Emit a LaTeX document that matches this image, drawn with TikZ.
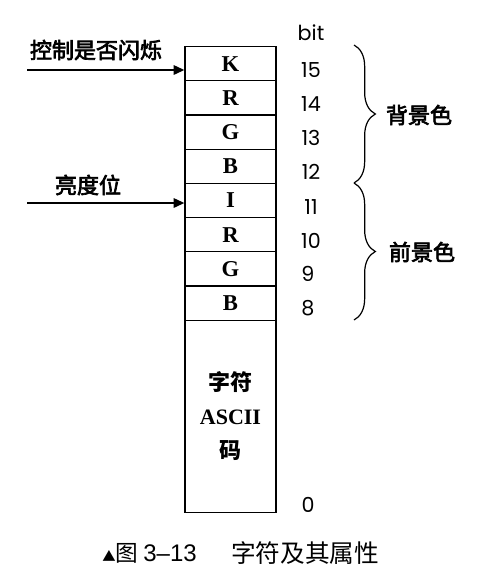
\documentclass[tikz,border=0pt]{standalone}
\usepackage{fontspec}
\setmainfont{Liberation Serif}
\newfontfamily\cjk{Noto Sans CJK SC}
\newfontfamily\cjkm[FakeBold=3]{Noto Sans CJK SC}
\newfontfamily\numf{Poppins}
\usetikzlibrary{arrows.meta,decorations.pathreplacing}
\begin{document}
\begin{tikzpicture}[x=0.75pt,y=-0.75pt,
  cell/.style={draw,line width=0.9pt,minimum width=68.25pt,minimum height=25.65pt,inner sep=0pt,
    font=\fontsize{17}{18}\selectfont\bfseries},
  bitnum/.style={font=\numf\fontsize{15.5}{16}\selectfont,inner sep=0pt},
  lbl/.style={font=\cjkm\fontsize{16.5}{18}\selectfont,inner sep=0pt},
  arr/.style={line width=1.4pt,-{Triangle[length=8pt,width=7pt]}},
  brc/.style={line width=0.9pt,decorate,decoration={brace,amplitude=16pt}}]
\useasboundingbox (0,0) rectangle (493,583);
% cells
\node[cell] (k15) at (230.5,63.6) {K};
\node[cell] (r14) at (230.5,97.8) {R};
\node[cell] (g13) at (230.5,132.0) {G};
\node[cell] (b12) at (230.5,166.2) {B};
\node[cell] (i11) at (230.5,200.4) {I};
\node[cell] (r10) at (230.5,234.6) {R};
\node[cell] (g9) at (230.5,268.8) {G};
\node[cell] (b8) at (230.5,303.0) {B};
\node[draw,line width=0.9pt,minimum width=68.25pt,minimum height=144.5pt,inner sep=0pt,
  align=center,font=\fontsize{16.5}{25.5}\selectfont\bfseries] (ascii) at (230.5,416.5)
  {{\cjk\bfseries 字符}\\ASCII\\{\cjk\bfseries 码}};
% bit numbers
\node[bitnum] (bit) at (311,33) {bit};
\node[bitnum] (n15) at (311,70) {15};
\node[bitnum] (n14) at (311,104) {14};
\node[bitnum] (n13) at (311,138) {13};
\node[bitnum] (n12) at (311,172) {12};
\node[bitnum] (n11) at (311,207) {11};
\node[bitnum] (n10) at (311,241) {10};
\node[bitnum] (n9) at (308,274) {9};
\node[bitnum] (n8) at (308,308) {8};
\node[bitnum] (n0) at (308,505) {0};
% arrows
\node[lbl] (flash) at (96,50) {控制是否闪烁};
\coordinate (a1) at (27,70);
\draw[arr] (a1) -- (a1 -| k15.west);
\node[lbl] (bright) at (88,185) {亮度位};
\coordinate (a2) at (27,203);
\draw[arr] (a2) -- (a2 -| i11.west);
% braces
\coordinate (b1t) at (354,45);
\coordinate (b1b) at (354,183);
\coordinate (b2t) at (354,183);
\coordinate (b2b) at (354,320);
\draw[brc] (b1t) -- (b1b);
\draw[brc] (b2t) -- (b2b);
\node[lbl] (bg) at (419,115) {背景色};
\node[lbl] (fg) at (422,252) {前景色};
% caption
\node[anchor=west,inner sep=0pt,font=\cjk\fontsize{17}{18}\selectfont] (cap1) at (102,553)
  {{\fontsize{10}{10}\selectfont▲}图 {\fontspec{Liberation Sans}\fontsize{18}{18}\selectfont 3–13}};
\node[anchor=west,inner sep=0pt,font=\cjk\fontsize{18.5}{18}\selectfont] (cap2) at (231,553)
  {字符及其属性};
\end{tikzpicture}
\end{document}
